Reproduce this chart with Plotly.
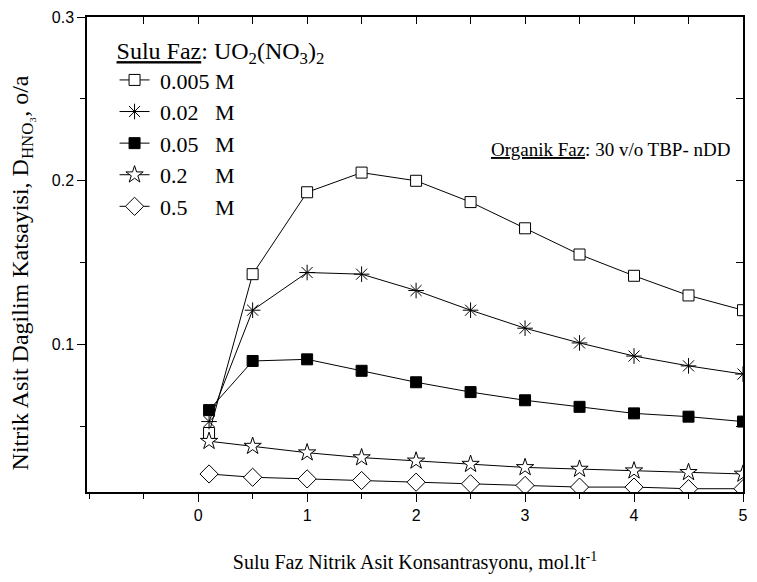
import plotly.graph_objects as go

x_hno3 = [0.1, 0.5, 1.0, 1.5, 2.0, 2.5, 3.0, 3.5, 4.0, 4.5, 5.0]
d_0005 = [0.046, 0.143, 0.193, 0.205, 0.200, 0.187, 0.171, 0.155, 0.142, 0.130, 0.121]
d_002 = [0.053, 0.121, 0.144, 0.143, 0.133, 0.121, 0.110, 0.101, 0.093, 0.087, 0.082]
d_005 = [0.060, 0.090, 0.091, 0.084, 0.077, 0.071, 0.066, 0.062, 0.058, 0.056, 0.053]
d_02 = [0.041, 0.038, 0.034, 0.031, 0.029, 0.027, 0.025, 0.024, 0.023, 0.022, 0.021]
d_05 = [0.021, 0.019, 0.018, 0.017, 0.016, 0.015, 0.014, 0.013, 0.013, 0.012, 0.012]

nb = "\u00a0"
series = [
    (nb + "0.005" + nb + "M", d_0005, "square", "white", 11),
    (nb + "0.02" + nb * 3 + "M", d_002, "asterisk-open", "black", 13),
    (nb + "0.05" + nb * 3 + "M", d_005, "square", "black", 11),
    (nb + "0.2" + nb * 5 + "M", d_02, "star", "white", 13),
    (nb + "0.5" + nb * 5 + "M", d_05, "diamond", "white", 14),
]

fig = go.Figure()
for name, ys, sym, fill, size in series:
    fig.add_trace(go.Scatter(
        x=x_hno3, y=ys, name=name, mode="lines+markers",
        line=dict(color="black", width=1),
        marker=dict(symbol=sym, size=size, color=fill,
                    line=dict(color="black", width=1)),
    ))

serif = "Liberation Serif"
sans = "Liberation Sans"

xr = [-1.02, 5.0]
yr = [0.01, 0.3]

fig.update_layout(
    width=757, height=582,
    margin=dict(l=87, r=9, t=15, b=90),
    paper_bgcolor="white", plot_bgcolor="white",
    showlegend=True,
    legend=dict(
        x=0.042, y=0.977, xanchor="left", yanchor="top",
        bgcolor="rgba(0,0,0,0)",
        font=dict(family=serif, size=22, color="black"),
        title=dict(text="<u>Sulu Faz</u>: UO<sub>2</sub>(NO<sub>3</sub>)<sub>2</sub>",
                   font=dict(family=serif, size=24, color="black")),
        tracegroupgap=0,
    ),
    xaxis=dict(
        range=xr, tickvals=[0, 1, 2, 3, 4, 5], ticks="outside", ticklen=8,
        tickwidth=1.3, tickcolor="black",
        minor=dict(dtick=0.5, tick0=0, ticks="outside", ticklen=5, tickwidth=1.3, tickcolor="black"),
        showline=True, linecolor="black", linewidth=1.5, showgrid=False, zeroline=False,
        tickfont=dict(family=sans, size=16, color="black"),
        title=dict(text="Sulu Faz Nitrik Asit Konsantrasyonu, mol.lt<sup>-1</sup>",
                   font=dict(family=serif, size=20, color="black"), standoff=32),
    ),
    yaxis=dict(
        range=yr, tickvals=[0.1, 0.2, 0.3], ticks="outside", ticklen=8,
        tickwidth=1.3, tickcolor="black",
        minor=dict(tickvals=[0.05, 0.15, 0.25], ticks="outside", ticklen=5, tickwidth=1.3, tickcolor="black"),
        showline=True, linecolor="black", linewidth=1.5, showgrid=False, zeroline=False,
        tickfont=dict(family=sans, size=16, color="black"),
    ),
    xaxis2=dict(
        range=xr, overlaying="x", side="top", anchor="y", matches="x",
        tickvals=[-0.5, 0, 0.5, 1, 1.5, 2, 2.5, 3, 3.5, 4, 4.5], ticks="inside", ticklen=7,
        tickwidth=1.3, tickcolor="black", showticklabels=False,
        showline=True, linecolor="black", linewidth=1.5, showgrid=False, zeroline=False,
    ),
    yaxis2=dict(
        range=yr, overlaying="y", side="right", anchor="x",
        tickvals=[0.05, 0.1, 0.15, 0.2, 0.25], ticks="inside", ticklen=7,
        tickwidth=1.3, tickcolor="black", showticklabels=False,
        showline=True, linecolor="black", linewidth=1.5, showgrid=False, zeroline=False,
    ),
    annotations=[
        dict(
            x=4.9, y=0.219, xref="x", yref="y", xanchor="right", yanchor="middle",
            text="<u>Organik Faz</u>: 30 v/o TBP- nDD", showarrow=False,
            font=dict(family=serif, size=19, color="black"),
        ),
        dict(
            x=(21 - 87) / 661, y=(492 - 272) / 477, xref="paper", yref="paper",
            xanchor="center", yanchor="middle", textangle=-90,
            text="Nitrik Asit Dagilim Katsayisi, D<sub>HNO\u2083</sub>, o/a", showarrow=False,
            font=dict(family=serif, size=24, color="black"),
        ),
    ],
)

fig.add_trace(go.Scatter(x=[None], y=[None], xaxis="x2", yaxis="y2", showlegend=False, hoverinfo="skip"))

fig.write_html("out.html")
